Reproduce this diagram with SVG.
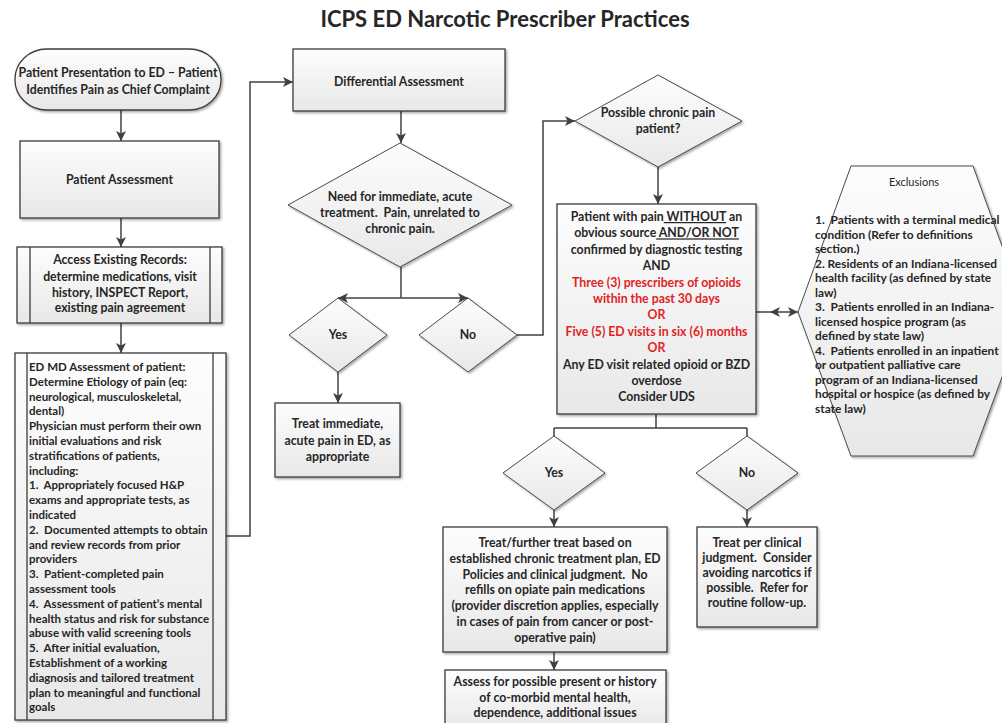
<svg xmlns="http://www.w3.org/2000/svg" width="1002" height="723" viewBox="0 0 1002 723">
<style>
text{font-family:Lato,"Liberation Sans",sans-serif;font-weight:bold;fill:#262626;white-space:pre}
.c{text-anchor:middle}
.t{font-size:12.3px}
.s{font-size:11.5px}
.x{font-size:11.9px}
.red{fill:#e02424}
.u{text-decoration:underline}
.box{fill:url(#g);stroke:#3c3c3c;stroke-width:1.3;filter:url(#sh)}
.dia{fill:url(#g);stroke:#4a4a4a;stroke-width:1;filter:url(#sh)}
.ln{fill:none;stroke:#3c3c3c;stroke-width:1.3}
.cn{fill:none;stroke:#404040;stroke-width:1.5}
.ar{marker-end:url(#ah)}
</style>
<defs>
<linearGradient id="g" x1="0" y1="0" x2="0" y2="1">
<stop offset="0" stop-color="#fdfdfd"/>
<stop offset="1" stop-color="#e8e8e8"/>
</linearGradient>
<filter id="sh" x="-5%" y="-5%" width="115%" height="115%">
<feDropShadow dx="1.5" dy="1.5" stdDeviation="0.8" flood-color="#000" flood-opacity="0.35"/>
</filter>
<marker id="ah" viewBox="0 0 10 10" refX="10" refY="5" markerWidth="10" markerHeight="10" markerUnits="userSpaceOnUse" orient="auto-start-reverse">
<path d="M0,0 L10,5 L0,10 L2.5,5 Z" fill="#404040"/>
</marker>
</defs>
<rect width="1002" height="723" fill="#fff"/>
<text class="c" x="505" y="27" style="font-size:22px">ICPS ED Narcotic Prescriber Practices</text>

<g id="connectors">
<path class="cn ar" d="M121,110 V141"/>
<path class="cn ar" d="M121,218 V247"/>
<path class="cn ar" d="M121,323 V353"/>
<path class="cn ar" d="M226,536 H250 V82 H293"/>
<path class="cn ar" d="M401,111 V143"/>
<path class="cn" d="M401,267 V298"/>
<path class="cn ar" d="M401,298 H338"/>
<path class="cn ar" d="M401,298 H468"/>
<path class="cn ar" d="M338,372 V403"/>
<path class="cn ar" d="M517,335 H543 V121 H575"/>
<path class="cn ar" d="M658,167 V204"/>
<path class="cn ar" d="M770,312 H798" style="marker-start:url(#ah)"/>
<path class="cn" d="M770,312 H756"/>
<path class="cn" d="M656,414 V428 M554,428 H747 M554,428 V436 M747,428 V436"/>
<path class="cn ar" d="M554,510 V527"/>
<path class="cn ar" d="M747,510 V527"/>
<path class="cn ar" d="M554,652 V670"/>
</g>

<g id="start">
<rect class="box" x="15" y="49" width="206" height="61" rx="32" ry="30"/>
<text class="c t" x="118" y="77">Patient Presentation to ED – Patient</text>
<text class="c t" x="118" y="94">Identifies Pain as Chief Complaint</text>
</g>

<g id="patient-assessment">
<rect class="box" x="20" y="141" width="199" height="77"/>
<text class="c t" x="119.5" y="184">Patient Assessment</text>
</g>

<g id="access-records">
<rect class="box" x="17" y="247" width="205" height="76"/>
<path class="ln" d="M30,247 V323 M210,247 V323"/>
<text class="c t" x="120" y="264">Access Existing Records:</text>
<text class="c t" x="120" y="281">determine medications, visit</text>
<text class="c t" x="120" y="297">history, INSPECT Report,</text>
<text class="c t" x="120" y="312">existing pain agreement</text>
</g>

<g id="ed-md-assessment">
<rect class="box" x="15" y="353" width="211" height="367"/>
<path class="ln" d="M27,353 V720 M213,353 V720"/>
<text class="s" x="29" y="371">ED MD Assessment of patient:</text>
<text class="s" x="29" y="385.8">Determine Etiology of pain (eq:</text>
<text class="s" x="29" y="400.6">neurological, musculoskeletal,</text>
<text class="s" x="29" y="415.4">dental)</text>
<text class="s" x="29" y="430.2">Physician must perform their own</text>
<text class="s" x="29" y="445">initial evaluations and risk</text>
<text class="s" x="29" y="459.8">stratifications of patients,</text>
<text class="s" x="29" y="474.6">including:</text>
<text class="s" x="29" y="489.4">1.  Appropriately focused H&amp;P</text>
<text class="s" x="29" y="504.2">exams and appropriate tests, as</text>
<text class="s" x="29" y="519">indicated</text>
<text class="s" x="29" y="533.8">2.  Documented attempts to obtain</text>
<text class="s" x="29" y="548.6">and review records from prior</text>
<text class="s" x="29" y="563.4">providers</text>
<text class="s" x="29" y="578.2">3.  Patient-completed pain</text>
<text class="s" x="29" y="593">assessment tools</text>
<text class="s" x="29" y="607.8">4.  Assessment of patient’s mental</text>
<text class="s" x="29" y="622.6">health status and risk for substance</text>
<text class="s" x="29" y="637.4">abuse with valid screening tools</text>
<text class="s" x="29" y="652.2">5.  After initial evaluation,</text>
<text class="s" x="29" y="667">Establishment of a working</text>
<text class="s" x="29" y="681.8">diagnosis and tailored treatment</text>
<text class="s" x="29" y="696.6">plan to meaningful and functional</text>
<text class="s" x="29" y="711.4">goals</text>
</g>

<g id="differential">
<rect class="box" x="293" y="49" width="212" height="62"/>
<text class="c t" x="399" y="86">Differential Assessment</text>
</g>

<g id="need-diamond">
<polygon class="dia" points="400,143 512,205 400,267 288,205"/>
<text class="c t" x="400" y="201">Need for immediate, acute</text>
<text class="c t" x="400" y="217">treatment.  Pain, unrelated to</text>
<text class="c t" x="400" y="233">chronic pain.</text>
</g>

<g id="yes1">
<polygon class="dia" points="338,298 387,335 338,372 289,335"/>
<text class="c t" x="338" y="339">Yes</text>
</g>

<g id="no1">
<polygon class="dia" points="468,298 517,335 468,372 419,335"/>
<text class="c t" x="468" y="339">No</text>
</g>

<g id="treat-immediate">
<rect class="box" x="275" y="403" width="125" height="74"/>
<text class="c t" x="337.5" y="428">Treat immediate,</text>
<text class="c t" x="337.5" y="445">acute pain in ED, as</text>
<text class="c t" x="337.5" y="461">appropriate</text>
</g>

<g id="chronic-diamond">
<polygon class="dia" points="658,75 742,121 658,167 575,121"/>
<text class="c t" x="658" y="117">Possible chronic pain</text>
<text class="c t" x="658" y="133">patient?</text>
</g>

<g id="criteria">
<rect class="box" x="557" y="204" width="199" height="210"/>
<text class="c t" x="656.5" y="221">Patient with pain<tspan class="u"> WITHOUT</tspan> an</text>
<text class="c t" x="656.5" y="237.4">obvious source<tspan class="u"> AND/OR NOT</tspan></text>
<text class="c t" x="656.5" y="253.8">confirmed by diagnostic testing</text>
<text class="c t" x="656.5" y="270.2">AND</text>
<text class="c t red" x="656.5" y="286.6">Three (3) prescribers of opioids</text>
<text class="c t red" x="656.5" y="303">within the past 30 days</text>
<text class="c t red" x="656.5" y="319.4">OR</text>
<text class="c t red" x="656.5" y="335.8">Five (5) ED visits in six (6) months</text>
<text class="c t red" x="656.5" y="352.2">OR</text>
<text class="c t" x="656.5" y="368.6">Any ED visit related opioid or BZD</text>
<text class="c t" x="656.5" y="385">overdose</text>
<text class="c t" x="656.5" y="401.4">Consider UDS</text>
</g>

<g id="exclusions">
<polygon class="dia" points="851,166 973,166 1026,312 973,456 851,456 798,312"/>
<text class="c x" x="914" y="186" style="font-weight:normal;font-size:11px">Exclusions</text>
<text class="x" x="815" y="224">1.  Patients with a terminal medical</text>
<text class="x" x="815" y="238.5">condition (Refer to definitions</text>
<text class="x" x="815" y="253">section.)</text>
<text class="x" x="815" y="267.5">2. Residents of an Indiana-licensed</text>
<text class="x" x="815" y="282">health facility (as defined by state</text>
<text class="x" x="815" y="296.5">law)</text>
<text class="x" x="815" y="311">3.  Patients enrolled in an Indiana-</text>
<text class="x" x="815" y="325.5">licensed hospice program (as</text>
<text class="x" x="815" y="340">defined by state law)</text>
<text class="x" x="815" y="354.5">4.  Patients enrolled in an inpatient</text>
<text class="x" x="815" y="369">or outpatient palliative care</text>
<text class="x" x="815" y="383.5">program of an Indiana-licensed</text>
<text class="x" x="815" y="398">hospital or hospice (as defined by</text>
<text class="x" x="815" y="412.5">state law)</text>
</g>

<g id="yes2">
<polygon class="dia" points="554,436 605,473 554,510 503,473"/>
<text class="c t" x="554" y="477">Yes</text>
</g>

<g id="no2">
<polygon class="dia" points="747,436 798,473 747,510 696,473"/>
<text class="c t" x="747" y="477">No</text>
</g>

<g id="treat-chronic">
<rect class="box" x="443" y="527" width="224" height="125"/>
<text class="c t" x="555" y="547">Treat/further treat based on</text>
<text class="c t" x="555" y="562.8">established chronic treatment plan, ED</text>
<text class="c t" x="555" y="578.6">Policies and clinical judgment.  No</text>
<text class="c t" x="555" y="594.4">refills on opiate pain medications</text>
<text class="c t" x="555" y="610.2">(provider discretion applies, especially</text>
<text class="c t" x="555" y="626">in cases of pain from cancer or post-</text>
<text class="c t" x="555" y="641.8">operative pain)</text>
</g>

<g id="treat-clinical">
<rect class="box" x="697" y="527" width="120" height="100"/>
<text class="c t" x="757" y="547">Treat per clinical</text>
<text class="c t" x="757" y="562">judgment.  Consider</text>
<text class="c t" x="757" y="577">avoiding narcotics if</text>
<text class="c t" x="757" y="592">possible.  Refer for</text>
<text class="c t" x="757" y="607">routine follow-up.</text>
</g>

<g id="assess-comorbid">
<rect class="box" x="445" y="670" width="221" height="60"/>
<text class="c t" x="555" y="686">Assess for possible present or history</text>
<text class="c t" x="555" y="701.5">of co-morbid mental health,</text>
<text class="c t" x="555" y="717">dependence, additional issues</text>
</g>
</svg>
